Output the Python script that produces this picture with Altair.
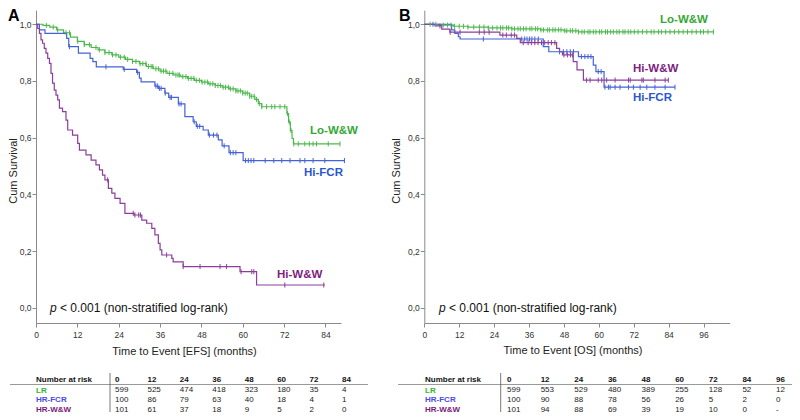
import altair as alt
import pandas as pd

FONT = "Liberation Sans, Arial, Helvetica, sans-serif"

SERIES = ["LR", "HR-FCR", "HR-W&W"]
LINE_COLORS = ["#4cb84c", "#4563d6", "#8b3f9b"]
LABEL_COLORS = ["#36a836", "#2a56d0", "#7d1e80"]
TABLE_COLORS = ["#2db82d", "#4a4ae8", "#7a1a7a"]

# ---------------- Panel A : EFS ----------------
a_lr_t = [0, 2, 4, 6, 8, 10, 12, 14, 16, 18, 20, 22, 24, 26, 28, 30, 32, 34, 36, 38, 40, 42, 44,
          46, 48, 50, 52, 54, 56, 58, 60, 62, 63.5, 64.5, 65.5, 72.8, 73.3, 73.8, 74.3, 74.7]
a_lr_s = [1.0, 0.996, 0.99, 0.98, 0.97, 0.955, 0.94, 0.928, 0.918, 0.91, 0.90, 0.892, 0.884, 0.876,
          0.869, 0.861, 0.851, 0.843, 0.835, 0.827, 0.821, 0.815, 0.809, 0.802, 0.796, 0.79, 0.784,
          0.778, 0.772, 0.765, 0.757, 0.746, 0.735, 0.72, 0.709, 0.685, 0.655, 0.625, 0.597, 0.578]
a_lr_end = 88.2
a_lr_cens = [3.0, 5.0, 6.3, 8.7, 9.7, 12.1, 14.0, 15.5, 17.4, 18.4, 20.0, 21.2, 22.2, 23.2, 24.5,
             25.6, 26.6, 28.0, 29.0, 30.2, 31.0, 31.9, 32.6, 33.4, 33.9, 34.8, 35.5, 36.3, 37.0,
             37.7, 38.7, 39.7, 40.6, 41.2, 41.6, 42.6, 43.5, 44.2, 45.0, 45.8, 46.5, 47.4, 48.2,
             49.0, 49.8, 50.5, 51.3, 52.0, 52.8, 53.5, 54.3, 55.0, 55.8, 56.4, 57.2, 58.0, 58.6,
             59.3, 60.0, 60.7, 61.3, 62.0, 62.6, 63.3, 64.0, 64.8, 65.5, 66.9, 68.4, 69.3, 70.8,
             72.2, 73.0, 73.5, 74.0, 74.8, 76.1, 78.0, 79.3, 80.4, 81.4, 84.8, 88.2]

a_fcr_t = [0, 1, 2.6, 8.9, 9.5, 12.3, 15.7, 16.5, 17.5, 25.3, 29.2, 30.0, 30.5, 34.5, 35.5, 37.4,
           38.5, 41.3, 43.2, 45.6, 46.5, 48.5, 50, 52.9, 54, 56, 60.1]
a_fcr_s = [1.0, 0.98, 0.968, 0.95, 0.921, 0.898, 0.88, 0.868, 0.85, 0.841, 0.83, 0.81, 0.797, 0.782,
           0.774, 0.757, 0.742, 0.719, 0.674, 0.656, 0.64, 0.627, 0.609, 0.592, 0.571, 0.547, 0.519]
a_fcr_end = 89.5
a_fcr_cens = [9.7, 20.3, 25.6, 29.5, 34.8, 35.3, 35.8, 36.3, 37.5, 38.9, 39.3, 41.5, 42.1, 45.9,
              46.8, 47.5, 50.3, 51.5, 52.5, 54.6, 56.4, 57.2, 58.0, 60.8, 61.6, 62.4, 63.2, 66.5,
              69.0, 71.3, 73.7, 76.6, 78.0, 80.4, 83.8, 89.5]

a_ww_t = [0, 0.5, 1.0, 1.45, 1.9, 2.4, 2.9, 3.4, 3.9, 4.35, 4.8, 5.3, 5.8, 6.3, 6.8, 7.7, 8.7, 9.2,
          10.6, 12.1, 12.6, 14.5, 16.0, 17.4, 18.4, 19.3, 20.0, 21.0, 22.0, 22.9, 24.4, 25.8, 28.5,
          30.7, 32.1, 33.6, 34.5, 35.5, 36.0, 36.5, 39.4, 39.8, 42.7, 59.2, 64.0]
a_ww_s = [1.0, 0.985, 0.968, 0.945, 0.933, 0.915, 0.898, 0.88, 0.862, 0.827, 0.792, 0.768, 0.75,
          0.733, 0.704, 0.692, 0.662, 0.627, 0.609, 0.58, 0.556, 0.539, 0.521, 0.504, 0.486, 0.468,
          0.451, 0.421, 0.404, 0.386, 0.368, 0.333, 0.327, 0.309, 0.298, 0.28, 0.257, 0.227, 0.204,
          0.186, 0.174, 0.162, 0.145, 0.127, 0.08]
a_ww_end = 83.8
a_ww_cens = [20.8, 28.2, 28.7, 29.8, 30.3, 37.9, 42.7, 47.6, 53.4, 55.3, 59.5, 62.6, 63.2, 72.2, 83.5]

# ---------------- Panel B : OS ----------------
b_lr_t = [0, 5, 10, 15, 22, 30, 40, 48, 53]
b_lr_s = [1.0, 0.997, 0.993, 0.99, 0.987, 0.984, 0.98, 0.977, 0.973]
b_lr_end = 99.4
b_lr_cens = [2, 4, 6.5, 8, 9.2, 10.4, 12, 13.5, 15, 17, 19, 20.5, 22, 23.5, 25, 26.2, 27, 28.3, 29,
             30.1, 31, 32.2, 33, 34.1, 35, 36.3, 37, 38.2, 39, 40.1, 41, 42.3, 43, 44.2, 45, 46.1,
             47, 48.3, 49, 50.2, 51, 52.1, 53, 54.2, 55, 56.3, 57, 58.1, 59, 60.2, 61, 62.3, 63,
             64.1, 65, 66.2, 67, 68.3, 69, 70.1, 71, 72.2, 73.5, 75, 76.5, 78, 79, 80.5, 81.5, 83,
             84.5, 86, 87.5, 89, 90.5, 92, 93.5, 95, 96, 97.5, 99.4]

b_fcr_t = [0, 9.4, 10.5, 11.7, 12.3, 40.9, 42.8, 53, 58.1, 59, 61.8]
b_fcr_s = [1.0, 0.98, 0.968, 0.956, 0.948, 0.921, 0.903, 0.886, 0.856, 0.833, 0.778]
b_fcr_end = 86.2
b_fcr_cens = [3.0, 20.3, 33.5, 34.5, 35.3, 36.2, 37.0, 38.0, 39.2, 46.5, 47.8, 49.0, 50.2, 51.3,
              54.0, 55.2, 56.3, 57.3, 59.8, 60.8, 62.1, 63.3, 63.9, 65.6, 67.3, 70.2, 71.9, 74.2,
              76.5, 79.3, 82.8, 86.2]

b_ww_t = [0, 3.7, 6, 8.8, 26, 31.8, 33, 45.5, 46.5, 47.5, 51.2, 52.5, 54.7]
b_ww_s = [1.0, 0.994, 0.983, 0.972, 0.962, 0.95, 0.935, 0.915, 0.903, 0.892, 0.868, 0.839, 0.803]
b_ww_end = 83.9
b_ww_cens = [5.4, 8.9, 12.3, 18.9, 20.6, 22.3, 27.0, 28.2, 29.9, 31.0, 34.0, 35.7, 36.8, 38.0,
             39.1, 40.3, 41.4, 42.6, 43.7, 44.9, 48.0, 49.2, 50.3, 51.0, 55.8, 57.0, 59.8, 61.0,
             62.7, 65.6, 70.2, 70.8, 74.8, 75.3, 79.3, 82.8, 83.9]

# ---------------- Risk tables ----------------
a_months = [0, 12, 24, 36, 48, 60, 72, 84]
a_risk_lr = [599, 525, 474, 418, 323, 180, 35, 4]
a_risk_fcr = [100, 86, 79, 63, 40, 18, 4, 1]
a_risk_ww = [101, 61, 37, 18, 9, 5, 2, 0]

b_months = [0, 12, 24, 36, 48, 60, 72, 84, 96]
b_risk_lr = [599, 553, 529, 480, 389, 255, 128, 52, 12]
b_risk_fcr = [100, 90, 88, 78, 56, 26, 5, 2, 0]
b_risk_ww = [101, 94, 88, 69, 39, 19, 10, 0, "-"]


def step_rows(series, t, s, end):
    rows = [{"series": series, "t": ti, "s": si} for ti, si in zip(t, s)]
    rows.append({"series": series, "t": end, "s": s[-1]})
    return rows


def surv_at(t, s, x):
    v = s[0]
    for ti, si in zip(t, s):
        if ti <= x:
            v = si
        else:
            break
    return v


def cens_rows(series, t, s, cens):
    return [{"series": series, "t": c, "s": surv_at(t, s, c)} for c in cens]


COLOR = alt.Color("series:N", scale=alt.Scale(domain=SERIES, range=LINE_COLORS), legend=None)
Y_SCALE = dict(domain=[-0.054, 1.05], range=[315, 2.1], nice=False, zero=False)


def panel(lines, cens, xmax, xrange, xvals, yoff):
    xs = alt.Scale(domain=[0, xmax], range=xrange, nice=False, zero=False)
    ys = alt.Scale(**Y_SCALE)
    xaxis = alt.Axis(values=xvals, orient="bottom", offset=-89, title=None, grid=False,
                     tickSize=4, labelPadding=3, labelFontSize=8.5, labelFont=FONT,
                     labelColor="#333", domainColor="#8a8a8a", tickColor="#8a8a8a",
                     labelFlush=False, labelOverlap=False)
    yaxis = alt.Axis(values=[0, 0.2, 0.4, 0.6, 0.8, 1.0], orient="left", offset=yoff, title=None,
                     grid=False, tickSize=4, labelPadding=1, labelFontSize=8.5, labelFont=FONT,
                     labelColor="#333", domainColor="#8a8a8a", tickColor="#8a8a8a",
                     labelExpr="replace(format(datum.value, '.1f'), '.', ',')")
    line = alt.Chart(pd.DataFrame(lines)).mark_line(interpolate="step-after", strokeWidth=1.2).encode(
        x=alt.X("t:Q", scale=xs, axis=xaxis),
        y=alt.Y("s:Q", scale=ys, axis=yaxis),
        color=COLOR,
    )
    pts = alt.Chart(pd.DataFrame(cens)).mark_point(
        shape="M0,-1L0,1", size=26, filled=False, strokeWidth=1, opacity=1
    ).encode(
        x=alt.X("t:Q", scale=xs, axis=xaxis),
        y=alt.Y("s:Q", scale=ys, axis=yaxis),
        color=COLOR,
    )
    return alt.layer(line, pts)


linesA = (step_rows("LR", a_lr_t, a_lr_s, a_lr_end) + step_rows("HR-FCR", a_fcr_t, a_fcr_s, a_fcr_end)
          + step_rows("HR-W&W", a_ww_t, a_ww_s, a_ww_end))
censA = (cens_rows("LR", a_lr_t, a_lr_s, a_lr_cens) + cens_rows("HR-FCR", a_fcr_t, a_fcr_s, a_fcr_cens)
         + cens_rows("HR-W&W", a_ww_t, a_ww_s, a_ww_cens))
linesB = (step_rows("LR", b_lr_t, b_lr_s, b_lr_end) + step_rows("HR-FCR", b_fcr_t, b_fcr_s, b_fcr_end)
          + step_rows("HR-W&W", b_ww_t, b_ww_s, b_ww_end))
censB = (cens_rows("LR", b_lr_t, b_lr_s, b_lr_cens) + cens_rows("HR-FCR", b_fcr_t, b_fcr_s, b_fcr_cens)
         + cens_rows("HR-W&W", b_ww_t, b_ww_s, b_ww_cens))

panelA = panel(linesA, censA, 88.5, [28, 333], a_months, -28)
panelB = panel(linesB, censB, 105, [416.3, 721.7], b_months, -416.3)

ROW_BASE = [374, 384.5, 394, 403.5]


def table(months, risks, xrange, label_x, sep_x, line_x):
    rows = []
    for m in months:
        rows.append({"m": m, "r": 0, "txt": str(m), "hdr": True})
    for ri, vals in enumerate(risks):
        for m, v in zip(months, vals):
            rows.append({"m": m, "r": ri + 1, "txt": str(v), "hdr": False})
    df = pd.DataFrame(rows)
    xs = alt.Scale(domain=[0, months[-1]], range=xrange, nice=False, zero=False)
    ys = alt.Scale(domain=[0, 3], range=[ROW_BASE[0], ROW_BASE[3]], nice=False, zero=False)
    base = alt.Chart(df)
    hdr = base.transform_filter("datum.hdr").mark_text(
        align="left", baseline="alphabetic", font=FONT, fontSize=8, fontWeight="bold", color="#111"
    ).encode(x=alt.X("m:Q", scale=xs, axis=None), y=alt.Y("r:Q", scale=ys, axis=None), text="txt:N")
    nums = base.transform_filter("!datum.hdr").mark_text(
        align="left", baseline="alphabetic", font=FONT, fontSize=8, color="#222"
    ).encode(x=alt.X("m:Q", scale=xs, axis=None), y=alt.Y("r:Q", scale=ys, axis=None), text="txt:N")
    one = pd.DataFrame({"a": [0]})
    layers = [hdr, nums]
    layers.append(alt.Chart(one).mark_text(align="left", baseline="alphabetic", font=FONT, fontSize=8,
                                           fontWeight="bold", color="#111").encode(
        x=alt.value(label_x), y=alt.value(ROW_BASE[0]), text=alt.value("Number at risk")))
    for i, name in enumerate(SERIES):
        layers.append(alt.Chart(one).mark_text(align="left", baseline="alphabetic", font=FONT,
                                               fontSize=8, fontWeight="bold", color=TABLE_COLORS[i]).encode(
            x=alt.value(label_x), y=alt.value(ROW_BASE[i + 1]), text=alt.value(name)))
    layers.append(alt.Chart(one).mark_rule(color="#9a9a9a", strokeWidth=1).encode(
        x=alt.value(line_x[0]), x2=alt.value(line_x[1]), y=alt.value(376.5)))
    layers.append(alt.Chart(one).mark_rule(color="#555", strokeWidth=0.8).encode(
        x=alt.value(sep_x), y=alt.value(365), y2=alt.value(404)))
    return alt.layer(*layers)


tableA = table(a_months, [a_risk_lr, a_risk_fcr, a_risk_ww], [107, 334], 28, 102, [2, 360])
tableB = table(b_months, [b_risk_lr, b_risk_fcr, b_risk_ww], [499, 768], 417, 492.7, [390, 784])

one = pd.DataFrame({"a": [0]})


def txt(s, x, y, size, color="#222", weight="normal", style="normal", align="left",
        baseline="middle", angle=0):
    kw = dict(align=align, baseline=baseline, font=FONT, fontSize=size, color=color,
              fontWeight=weight, fontStyle=style)
    if angle:
        kw["angle"] = angle
    return alt.Chart(one).mark_text(**kw).encode(x=alt.value(x), y=alt.value(y), text=alt.value(s))


annos = [
    txt("A", 0, 12.5, 16, color="#000", weight="bold", baseline="alphabetic"),
    txt("B", 391, 12.5, 16, color="#000", weight="bold", baseline="alphabetic"),
    txt("Cum Survival", 5.5, 163, 11, color="#222", align="center", angle=270),
    txt("Cum Survival", 389, 163, 11, color="#222", align="center", angle=270),
    txt("Time to Event [EFS] (months)", 176.5, 343.7, 11, color="#222", align="center"),
    txt("Time to Event [OS] (months)", 565, 342.7, 11, color="#222", align="center"),
    txt("p", 42, 300, 12, color="#111", style="italic"),
    txt("< 0.001 (non-stratified log-rank)", 52, 300, 12, color="#111"),
    txt("p", 431, 300, 12, color="#111", style="italic"),
    txt("< 0.001 (non-stratified log-rank)", 441, 300, 12, color="#111"),
    txt("Lo-W&W", 302, 123, 11.5, color=LABEL_COLORS[0], weight="bold"),
    txt("Hi-FCR", 296, 165, 11.5, color=LABEL_COLORS[1], weight="bold"),
    txt("Hi-W&W", 269, 267, 11.5, color=LABEL_COLORS[2], weight="bold"),
    txt("Lo-W&W", 652, 12, 11.5, color=LABEL_COLORS[0], weight="bold"),
    txt("Hi-W&W", 625, 61, 11.5, color=LABEL_COLORS[2], weight="bold"),
    txt("Hi-FCR", 625, 90, 11.5, color=LABEL_COLORS[1], weight="bold"),
]

chart = alt.layer(panelA, panelB, tableA, tableB, *annos).resolve_scale(
    x="independent", y="independent"
).properties(
    width=784, height=404, padding=0, autosize=alt.AutoSizeParams(type="none"),
    background="white"
).configure_view(stroke=None)

chart.save("out.html", embed_options={"renderer": "svg", "actions": False})
